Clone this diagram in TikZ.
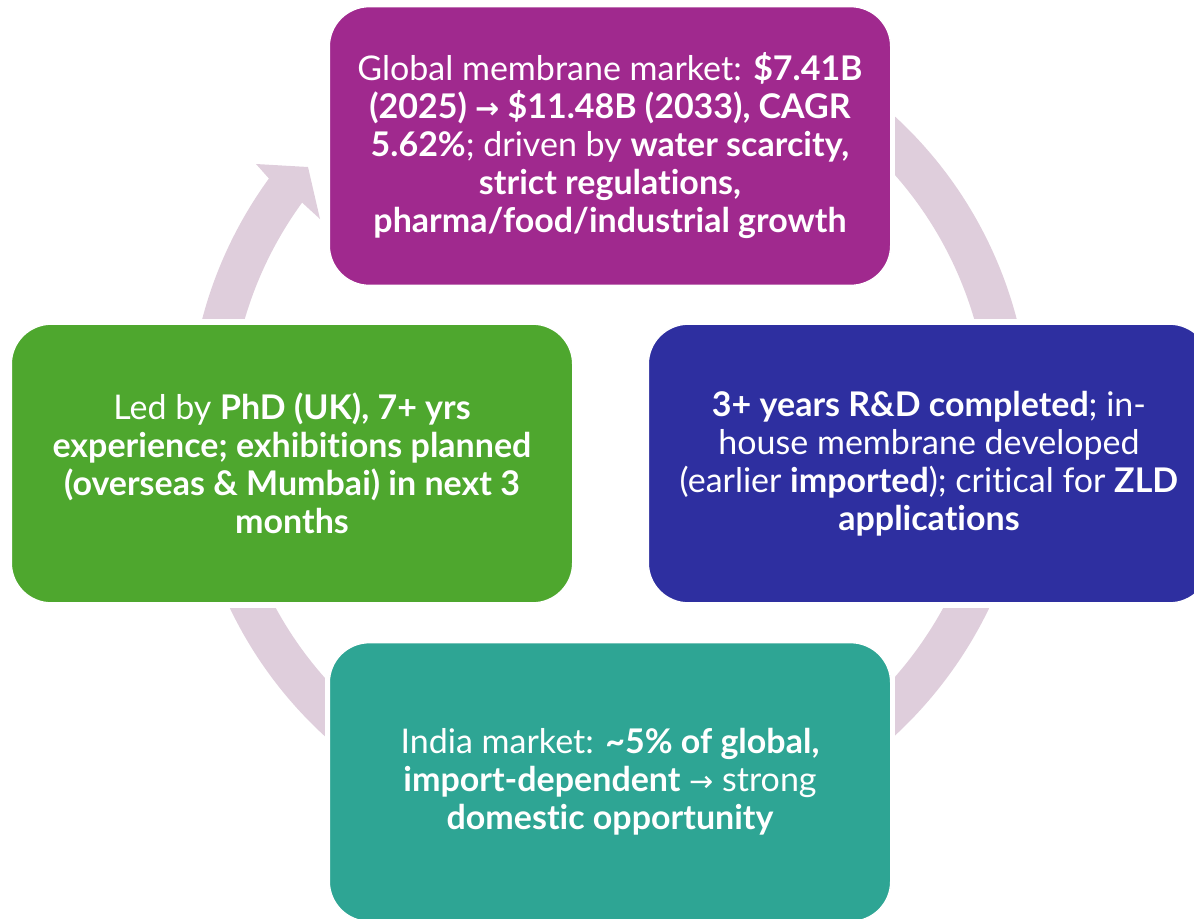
\documentclass[tikz,border=0pt]{standalone}
\usepackage{fontspec}
\setmainfont{Lato}[Ligatures=NoCommon]
\newfontfamily\arrowfont{DejaVu Sans}[Scale=0.85]
\newcommand{\rarr}{{\arrowfont →}}
\definecolor{ringc}{RGB}{223,206,220}
\definecolor{cglobal}{RGB}{160,41,142}
\definecolor{cteam}{RGB}{78,167,46}
\definecolor{crnd}{RGB}{46,47,160}
\definecolor{cindia}{RGB}{46,165,148}
\begin{document}
\begin{tikzpicture}[x=0.75pt, y=0.75pt]
    \tikzset{box/.style={draw=white, line width=1pt, rounded corners=30pt,
        minimum width=421pt, minimum height=209pt, text=white, align=center,
        font=\fontsize{25.5}{28.5}\selectfont}}
    \useasboundingbox (0,0) rectangle (1194,-918);
    \coordinate (C) at (609.5,-426);
    % ring behind the boxes
    \draw[ringc, line width=30.75pt] (C) ++(143:300.375pt) arc (143:450:300.375pt);
    \fill[ringc] (268.9,-178.5) -- (256,-164) -- (308,-167) -- (320,-219) -- (302.1,-202.6) -- cycle;
    \fill[white] (325,-2) rectangle (895,-290);
    \fill[white] (6,-319) rectangle (578,-608);
    \fill[white] (643,-319) rectangle (1215,-608);
    \fill[white] (325,-638) rectangle (895,-926);
    \node[box, fill=cglobal] (global) at (610,-146) {Global membrane market: \textbf{\$7.41B}\\
        \textbf{(2025) \rarr\ \$11.48B (2033), CAGR}\\
        \textbf{5.62\%}; driven by \textbf{water scarcity,}\\
        \textbf{strict regulations,}\\
        \textbf{pharma/food/industrial growth}};
    \node[box, fill=crnd] (rnd) at (929,-463.5) {\textbf{3+ years R\&D completed}; in-\\
        house membrane developed\\
        (earlier \textbf{imported}); critical for \textbf{ZLD}\\
        \textbf{applications}};
    \node[box, fill=cindia] (india) at (610,-782) {India market: \textbf{\textasciitilde5\% of global,}\\
        \textbf{import-dependent} \rarr\ strong\\
        \textbf{domestic opportunity}};
    \node[box, fill=cteam] (team) at (292,-463.5) {Led by \textbf{PhD (UK), 7+ yrs}\\
        \textbf{experience; exhibitions planned}\\
        \textbf{(overseas \& Mumbai) in next 3}\\
        \textbf{months}};
\end{tikzpicture}
\end{document}
